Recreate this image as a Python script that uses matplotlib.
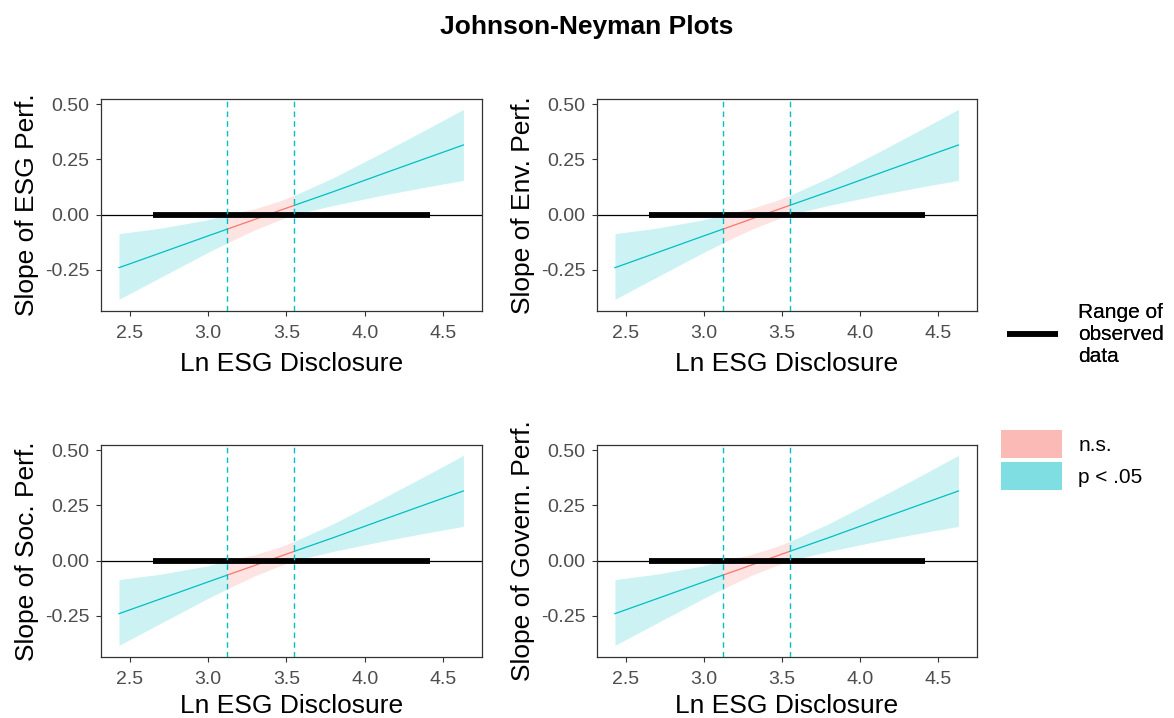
import numpy as np
import matplotlib.pyplot as plt
from matplotlib.lines import Line2D
from matplotlib.patches import Patch

plt.rcParams['font.family'] = ['Liberation Sans', 'DejaVu Sans']

# values (the four panels show the same estimates)
x_mod = np.array([2.43, 2.70, 3.00, 3.12, 3.30, 3.45, 3.55, 3.80, 4.10, 4.40, 4.63])
slope = np.array([-0.240, -0.172, -0.096, -0.066, -0.021, 0.017, 0.042, 0.104, 0.181, 0.257, 0.315])
ci_low = np.array([-0.383, -0.282, -0.170, -0.128, -0.068, -0.026, 0.000, 0.042, 0.086, 0.126, 0.155])
ci_high = np.array([-0.086, -0.061, -0.023, 0.000, 0.027, 0.060, 0.087, 0.167, 0.276, 0.388, 0.476])
jn_points = [3.12, 3.55]
observed_range = [2.645, 4.415]

y_labels = ['Slope of ESG Perf.', 'Slope of Env. Perf.',
            'Slope of Soc. Perf.', 'Slope of Govern. Perf.']
x_label = 'Ln ESG Disclosure'
x_ticks = [2.5, 3.0, 3.5, 4.0, 4.5]
y_ticks = [-0.25, 0.0, 0.25, 0.50]

CYAN = '#00BFC4'
RED = '#F8766D'

W, H = 1174, 718
fig = plt.figure(figsize=(W / 100, H / 100), dpi=100)

# panel boxes in pixels: (left, top, right, bottom)
boxes = [(101, 99, 482, 311), (597, 99, 977, 311),
         (101, 445, 482, 657), (597, 445, 977, 657)]


def jn_panel(ax, ylab, xpad):
    lo, hi = jn_points
    sig_left = x_mod <= lo
    ns = (x_mod >= lo) & (x_mod <= hi)
    sig_right = x_mod >= hi
    for mask, col in [(sig_left, CYAN), (ns, RED), (sig_right, CYAN)]:
        ax.fill_between(x_mod[mask], ci_low[mask], ci_high[mask],
                        color=col, alpha=0.2, lw=0)
        ax.plot(x_mod[mask], slope[mask], color=col, lw=0.9)
    ax.axhline(0, color='black', lw=0.9, zorder=1)
    ax.plot(observed_range, [0, 0], color='black', lw=4.2,
            solid_capstyle='butt', zorder=3)
    for v in jn_points:
        ax.axvline(v, color=CYAN, lw=1.0, ls=(0, (4, 3)), zorder=4)

    ax.set_xlim(2.315, 4.749)
    ax.set_ylim(-0.436, 0.523)
    ax.set_xticks(x_ticks)
    ax.set_xticklabels([f'{t:.1f}' for t in x_ticks])
    ax.set_yticks(y_ticks)
    ax.set_yticklabels([f'{t:.2f}' for t in y_ticks])
    ax.tick_params(labelsize=14, labelcolor='#4D4D4D', color='#333333',
                   length=3.5, width=0.8)
    ax.tick_params(axis='x', pad=6.5)
    ax.tick_params(axis='y', pad=5)
    for s in ax.spines.values():
        s.set_color('#333333')
        s.set_linewidth(0.9)
    ax.set_xlabel(x_label, fontsize=19, labelpad=xpad)
    ax.set_ylabel(ylab, fontsize=19, labelpad=4)


for i, ((l, t, r, b), ylab) in enumerate(zip(boxes, y_labels)):
    ax = fig.add_axes([l / W, 1 - b / H, (r - l) / W, (b - t) / H])
    # bottom row sits against the lower edge, so a bit less padding there
    jn_panel(ax, ylab, 7 if i < 2 else 4.5)

fig.text(0.5, 1 - 27 / H, 'Johnson-Neyman Plots', ha='center', va='center',
         fontsize=19, fontweight='bold')

# legends
leg1 = fig.legend(handles=[Line2D([], [], color='black', lw=4, solid_capstyle='butt')],
                  labels=['Range of\nobserved\ndata'],
                  loc='center left', bbox_to_anchor=(1007 / W, 1 - 334 / H),
                  frameon=False, fontsize=15, handlelength=2.45,
                  handletextpad=0.96, borderpad=0, borderaxespad=0)
leg1.get_texts()[0].set_multialignment('left')
fig.add_artist(leg1)
fig.legend(handles=[Patch(color=RED, alpha=0.5, lw=0),
                    Patch(color=CYAN, alpha=0.5, lw=0)],
           labels=['n.s.', 'p < .05'],
           loc='center left', bbox_to_anchor=(1001 / W, 1 - 460 / H),
           frameon=False, fontsize=15, handlelength=2.95, handleheight=1.75,
           labelspacing=0.15, handletextpad=0.75, borderpad=0, borderaxespad=0)

fig.savefig('out.png', dpi=100)
